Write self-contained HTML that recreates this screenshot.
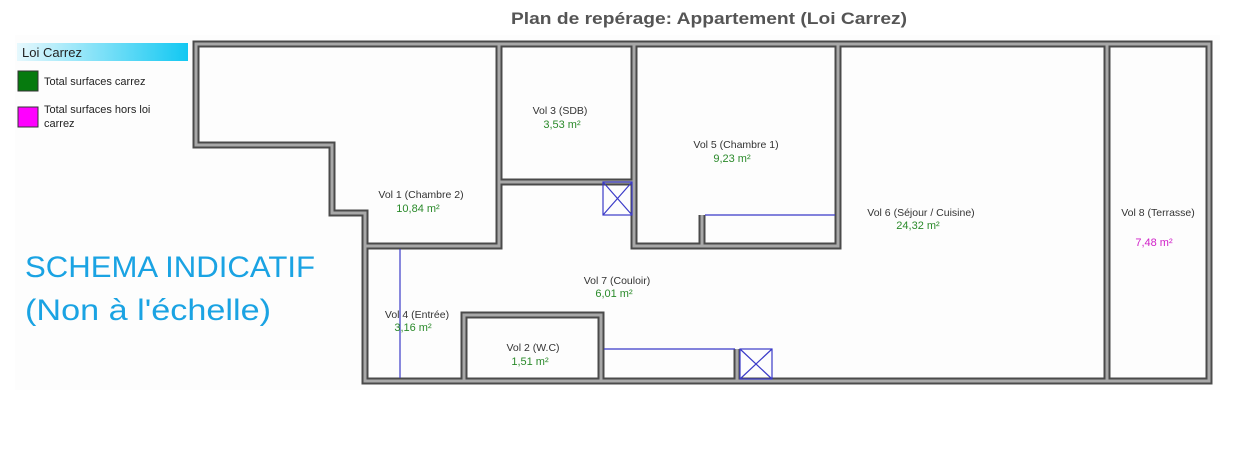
<!DOCTYPE html>
<html><head><meta charset="utf-8"><style>
body{margin:0;background:#fff;width:1237px;height:453px;overflow:hidden;font-family:"Liberation Sans",sans-serif}
</style></head><body>
<svg width="1237" height="453" xmlns="http://www.w3.org/2000/svg" font-family="Liberation Sans, sans-serif">
<rect x="15" y="35" width="1205" height="355" fill="#fdfdfd"/>
<text x="511" y="24" textLength="396" lengthAdjust="spacingAndGlyphs" font-size="17" font-weight="bold" fill="#555">Plan de repérage: Appartement (Loi Carrez)</text>
<defs><linearGradient id="g" x1="0" x2="1"><stop offset="0" stop-color="#e6f8fd"/><stop offset="1" stop-color="#12c8f2"/></linearGradient></defs>
<rect x="17" y="43" width="171" height="18" fill="url(#g)"/>
<text x="22" y="57" font-size="13" fill="#222">Loi Carrez</text>
<rect x="18" y="71" width="20" height="20" fill="#067a0e" stroke="#333"/>
<text x="44" y="85" font-size="11" fill="#222">Total surfaces carrez</text>
<rect x="18" y="107" width="20" height="20" fill="#ff00ff" stroke="#333"/>
<text x="44" y="113" font-size="11" fill="#222">Total surfaces hors loi</text>
<text x="44" y="127" font-size="11" fill="#222">carrez</text>
<text x="25" y="277" font-size="30" textLength="290" lengthAdjust="spacingAndGlyphs" fill="#1aa3e3">SCHEMA INDICATIF</text>
<text x="25" y="320" font-size="30" textLength="246" lengthAdjust="spacingAndGlyphs" fill="#1aa3e3">(Non à l'échelle)</text>
<g fill="none" stroke-linejoin="miter" stroke-linecap="square">
<g id="w">
<path d="M365,246 L365,213 L332,213 L332,145 L196,145 L196,44 L1209,44 L1209,381 L365,381 Z"/>
<polyline points="365,246 499,246 499,44"/>
<line x1="499" y1="182" x2="634" y2="182"/>
<polyline points="634,44 634,246 838,246 838,44"/>
<line x1="702" y1="215" x2="702" y2="246"/>
<line x1="1107" y1="44" x2="1107" y2="381"/>
<rect x="464" y="315" width="137" height="66"/>
<line x1="737" y1="349" x2="737" y2="381"/>
</g>
</g>
<use href="#w" stroke="#4a4a4a" stroke-width="7" fill="none"/>
<use href="#w" stroke="#a8a8a8" stroke-width="3" fill="none"/>
<g stroke="#3a3ac8" stroke-width="1.2" fill="none">
<line x1="705" y1="215" x2="835" y2="215"/>
<line x1="604" y1="349" x2="735" y2="349"/>
<line x1="400" y1="249" x2="400" y2="378"/>
<rect x="603" y="182" width="29" height="33"/>
<line x1="603" y1="182" x2="632" y2="215"/><line x1="632" y1="182" x2="603" y2="215"/>
<rect x="740" y="349" width="32" height="30"/>
<line x1="740" y1="349" x2="772" y2="379"/><line x1="772" y1="349" x2="740" y2="379"/>
</g>
<g font-size="10.5" text-anchor="middle" fill="#333">
<text x="421" y="198">Vol 1 (Chambre 2)</text><text x="418" y="212" fill="#2a8a2a" font-size="11">10,84 m²</text>
<text x="560" y="114">Vol 3 (SDB)</text><text x="562" y="128" fill="#2a8a2a" font-size="11">3,53 m²</text>
<text x="736" y="148">Vol 5 (Chambre 1)</text><text x="732" y="162" fill="#2a8a2a" font-size="11">9,23 m²</text>
<text x="921" y="216">Vol 6 (Séjour / Cuisine)</text><text x="918" y="229" fill="#2a8a2a" font-size="11">24,32 m²</text>
<text x="1158" y="216">Vol 8 (Terrasse)</text><text x="1154" y="246" fill="#d020c8" font-size="11">7,48 m²</text>
<text x="617" y="284">Vol 7 (Couloir)</text><text x="614" y="297" fill="#2a8a2a" font-size="11">6,01 m²</text>
<text x="417" y="318">Vol 4 (Entrée)</text><text x="413" y="331" fill="#2a8a2a" font-size="11">3,16 m²</text>
<text x="533" y="351">Vol 2 (W.C)</text><text x="530" y="365" fill="#2a8a2a" font-size="11">1,51 m²</text>
</g>
</svg>
</body></html>
